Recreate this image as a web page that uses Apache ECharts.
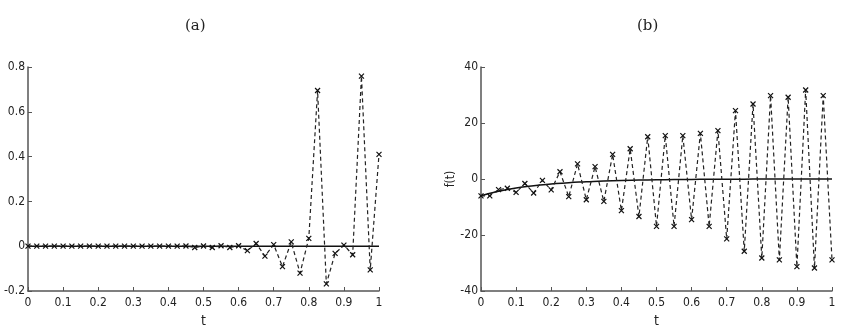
<!DOCTYPE html>
<html>
<head>
<meta charset="utf-8">
<script src="https://cdn.jsdelivr.net/npm/echarts@6/dist/echarts.min.js"></script>
<style>
html, body { margin: 0; padding: 0; background: #fff; }
#main { width: 841px; height: 332px; }
</style>
</head>
<body>
<div id="main"></div>
<script>
// sample points t = 0, 0.025, ..., 1
var tSamples = [0, 0.025, 0.05, 0.075, 0.1, 0.125, 0.15, 0.175, 0.2, 0.225,
    0.25, 0.275, 0.3, 0.325, 0.35, 0.375, 0.4, 0.425, 0.45, 0.475,
    0.5, 0.525, 0.55, 0.575, 0.6, 0.625, 0.65, 0.675, 0.7, 0.725,
    0.75, 0.775, 0.8, 0.825, 0.85, 0.875, 0.9, 0.925, 0.95, 0.975, 1];

// panel (a): exact solution and approximation
var exactA = [0, 0, 0, 0, 0, 0, 0, 0, 0, 0, 0, 0, 0, 0, 0, 0, 0, 0, 0, 0, 0,
    0, 0, 0, 0, 0, 0, 0, 0, 0, 0, 0, 0, 0, 0, 0, 0, 0, 0, 0, 0];
var approxA = [0, 0, 0, 0, 0, 0, 0, 0, 0, 0, 0, 0, 0, 0, 0, 0, 0, 0,
    0.001, -0.006, 0.001, -0.006, 0.002, -0.006, 0.002, -0.02, 0.012, -0.044,
    0.007, -0.091, 0.019, -0.12, 0.035, 0.695, -0.168, -0.032, 0.005, -0.038,
    0.759, -0.106, 0.41];

// panel (b): exact curve at t = 0, 0.05, ..., 1 and approximation
var tCurve = [0, 0.05, 0.1, 0.15, 0.2, 0.25, 0.3, 0.35, 0.4, 0.45, 0.5,
    0.55, 0.6, 0.65, 0.7, 0.75, 0.8, 0.85, 0.9, 0.95, 1];
var exactB = [-6, -4.4, -3.2, -2.4, -1.8, -1.3, -1.0, -0.7, -0.5, -0.4, -0.3,
    -0.2, -0.15, -0.1, -0.08, -0.05, -0.04, -0.03, -0.02, -0.01, 0];
var approxB = [-6, -6, -3.8, -3.3, -4.8, -1.6, -5.0, -0.5, -3.9, 2.6,
    -6.3, 5.4, -7.4, 4.4, -8.0, 8.8, -11.3, 10.8, -13.4, 15.1,
    -16.9, 15.5, -16.9, 15.5, -14.5, 16.3, -16.9, 17.3, -21.4, 24.4,
    -25.8, 26.8, -28.2, 29.8, -28.9, 29.2, -31.3, 31.8, -31.8, 29.8, -28.9];

function pairs(xs, ys) {
    return xs.map(function (x, i) { return [x, ys[i]]; });
}

var tickFont = '"Liberation Sans Narrow", "DejaVu Sans Condensed", "Liberation Sans", sans-serif';
var axisColor = '#555';
var crossSymbol = 'path://M0,0L10,10M10,0L0,10';

function xAxisFor(gridIndex) {
    return {
        type: 'value', gridIndex: gridIndex, min: 0, max: 1, interval: 0.1,
        name: 't', nameLocation: 'middle', nameGap: 21,
        nameTextStyle: { fontFamily: tickFont, fontSize: 14, color: '#222' },
        axisLine: { onZero: false, lineStyle: { color: axisColor, width: 1.5 } },
        axisTick: { inside: true, length: 4, lineStyle: { color: axisColor } },
        axisLabel: {
            fontFamily: tickFont, fontSize: 12, color: '#222', margin: 6,
            formatter: function (v) { return String(+v.toFixed(1)); }
        },
        splitLine: { show: false }
    };
}

function yAxisFor(gridIndex, min, max, interval) {
    return {
        type: 'value', gridIndex: gridIndex, min: min, max: max, interval: interval,
        name: 'f(t)', nameLocation: 'middle', nameGap: 22, nameRotate: 90,
        nameTextStyle: { fontFamily: tickFont, fontSize: 12, color: '#222' },
        axisLine: { show: true, onZero: false, lineStyle: { color: axisColor, width: 1.5 } },
        axisTick: { show: true, inside: true, length: 4, lineStyle: { color: axisColor } },
        axisLabel: {
            fontFamily: tickFont, fontSize: 12, color: '#222', margin: 3,
            formatter: function (v) { return String(+v.toFixed(1)); }
        },
        splitLine: { show: false }
    };
}

function approxSeries(idx, data) {
    return {
        type: 'line', xAxisIndex: idx, yAxisIndex: idx, data: data,
        symbol: crossSymbol, symbolSize: 5, showSymbol: true,
        itemStyle: { color: 'none', borderColor: '#111', borderWidth: 1.2 },
        lineStyle: { color: '#222', width: 1.2, type: [4, 3] },
        animation: false, z: 3
    };
}

function exactSeries(idx, data, smooth) {
    return {
        type: 'line', xAxisIndex: idx, yAxisIndex: idx, data: data,
        symbol: 'none', smooth: smooth,
        lineStyle: { color: '#111', width: 1.5 },
        animation: false, z: 2
    };
}

var chartDom = document.getElementById('main');
var myChart = echarts.init(chartDom, null, { renderer: 'canvas' });
var option = {
    backgroundColor: '#fff',
    animation: false,
    title: [
        { text: '(a)', left: 180, top: 14, textStyle: { fontFamily: '"DejaVu Serif", "Liberation Serif", serif', fontWeight: 'normal', fontSize: 15, color: '#222' } },
        { text: '(b)', left: 632, top: 14, textStyle: { fontFamily: '"DejaVu Serif", "Liberation Serif", serif', fontWeight: 'normal', fontSize: 15, color: '#222' } }
    ],
    grid: [
        { left: 28, top: 67, width: 351, height: 224, containLabel: false, outerBoundsMode: 'none' },
        { left: 481, top: 67, width: 351, height: 224, containLabel: false, outerBoundsMode: 'none' }
    ],
    xAxis: [xAxisFor(0), xAxisFor(1)],
    yAxis: [yAxisFor(0, -0.2, 0.8, 0.2), yAxisFor(1, -40, 40, 20)],
    series: [
        exactSeries(0, pairs(tSamples, exactA), false),
        approxSeries(0, pairs(tSamples, approxA)),
        exactSeries(1, pairs(tCurve, exactB), true),
        approxSeries(1, pairs(tSamples, approxB))
    ]
};
option && myChart.setOption(option);
</script>
</body>
</html>
